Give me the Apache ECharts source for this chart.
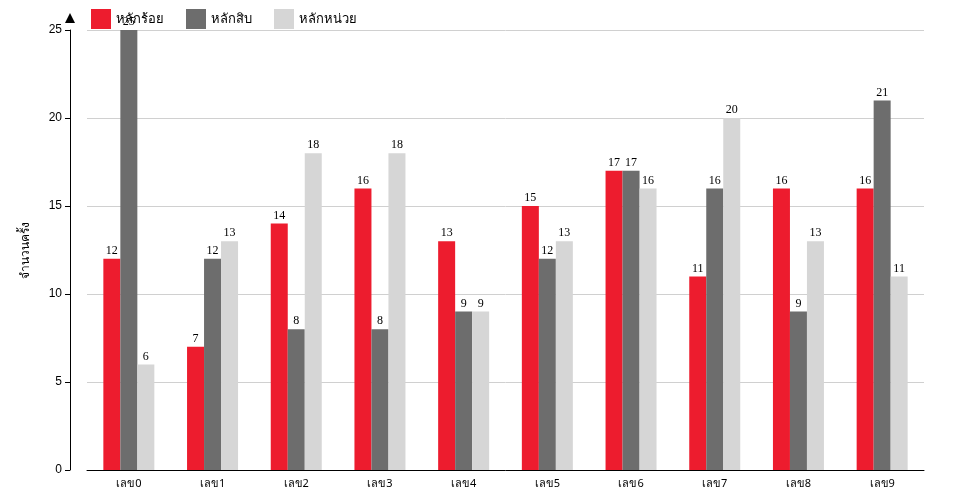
<!DOCTYPE html><html><head><meta charset="utf-8"><script src="https://cdn.jsdelivr.net/npm/echarts@6/dist/echarts.min.js"></script></head><body style="margin:0"><div id="c" style="width:960px;height:500px"></div><script>
const categories=['เลข0','เลข1','เลข2','เลข3','เลข4','เลข5','เลข6','เลข7','เลข8','เลข9'];
const hundreds=[12,7,14,16,13,15,17,11,16,16];
const tens=[25,12,8,8,9,12,17,16,9,21];
const units=[6,13,18,18,9,13,16,20,13,11];
const names=['หลักร้อย','หลักสิบ','หลักหน่วย'];
const colors=['#ed1c2e','#6d6d6d','#d6d6d6'];
const ch=echarts.init(document.getElementById('c'));
const lbl={show:true,position:'top',distance:2,color:'#000',fontFamily:'Liberation Serif',fontSize:12};
ch.setOption({
animation:false,
legend:{left:86,top:4,itemWidth:20,itemHeight:20,itemGap:22,icon:'rect',textStyle:{fontSize:13,color:'#000',fontFamily:'Noto Sans'},data:names},
grid:{left:87,right:36,top:30,bottom:30},
xAxis:{type:'category',data:categories,axisLine:{lineStyle:{color:'#000'}},axisTick:{lineStyle:{color:'#000'}},axisLabel:{color:'#000',fontSize:11,fontFamily:'Noto Sans'}},
yAxis:{type:'value',min:0,max:25,interval:5,offset:17,name:'จำนวนครั้ง',nameLocation:'middle',nameGap:38,nameRotate:90,nameTextStyle:{color:'#000',fontSize:12,fontFamily:'Noto Sans'},
axisLine:{show:true,symbol:['none','triangle'],symbolSize:[10,10],symbolOffset:[0,12],lineStyle:{color:'#000'}},axisTick:{show:true,lineStyle:{color:'#000'}},axisLabel:{color:'#000',fontSize:12},splitLine:{lineStyle:{color:'#d0d0d0'}}},
series:[hundreds,tens,units].map((d,i)=>({name:names[i],type:'bar',data:d,barWidth:17,barGap:'0%',itemStyle:{color:colors[i]},label:lbl}))
});
</script></body></html>
